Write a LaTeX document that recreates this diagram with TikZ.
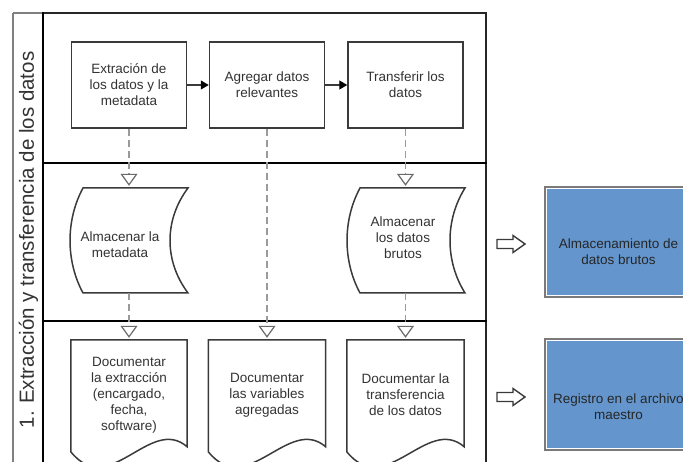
\documentclass[tikz,border=0pt]{standalone}
\usepackage{fontspec}
\setmainfont{Liberation Sans}
\usetikzlibrary{arrows.meta,calc}
\definecolor{boxline}{HTML}{3A3A3A}
\definecolor{txt}{HTML}{333333}
\definecolor{conn}{HTML}{9A9A9A}
\definecolor{tipline}{HTML}{6A6A6A}
\definecolor{repo}{RGB}{100,150,205}
\definecolor{repoedge}{HTML}{7A7A7A}
\definecolor{frameleft}{HTML}{808080}

\begin{document}
\begin{tikzpicture}[x=1pt,y=-1pt,
  every node/.style={text=txt, font=\fontsize{13.5}{16}\selectfont, align=center, inner sep=0pt},
  taskbox/.style={draw=boxline, line width=1.5pt, minimum width=115pt, minimum height=86pt},
  shapeline/.style={draw=boxline, line width=1.5pt, fill=white},
  storebox/.style={minimum width=105pt, minimum height=105pt},
  docbox/.style={minimum width=116pt, minimum height=110pt},
  flow/.style={draw=boxline, line width=1.3pt, -{Triangle[length=8pt,width=9pt,color=black]}},
  link/.style={draw=conn, line width=1.8pt, dash pattern=on 7pt off 4pt,
    -{Triangle[open, length=12pt, width=17pt, line width=1.2pt, color=tipline]}, shorten >=2pt},
  lane/.style={line width=2.8pt, black},
  repobox/.style={draw=repoedge, line width=2.2pt, fill=repo, minimum width=147pt, minimum height=110pt},
  repotext/.style={text=black!85},
  blockarrow/.style={draw=boxline, line width=1.4pt, fill=white, line join=miter},
]
\clip (0,0) rectangle (683,462);
\fill[white] (0,0) rectangle (683,462);

% swimlane frame
\draw[frameleft, line width=2pt] (13,13) -- (13,470);
\draw[frameleft, line width=2pt] (13,13) -- (43,13);
\draw[black!85, line width=2pt] (43,13) -- (486,13) -- (486,470);
\draw[lane] (43,12) -- (43,470);
\draw[lane] (43,163) -- (487,163);
\draw[lane] (43,321) -- (487,321);

\node[rotate=90, font=\fontsize{20.5}{24}\selectfont] (lanelabel) at (28.5,240)
  {1. Extracción y transferencia de los datos};

% process steps
\node[taskbox] (b1) at (129,85) {Extración de\\los datos y la\\metadata};
\node[taskbox] (b2) at (267,85) {Agregar datos\\relevantes};
\node[taskbox] (b3) at (405.5,85) {Transferir los\\datos};
\draw[flow] (b1) -- (b2);
\draw[flow] (b2) -- (b3);

% stored data shapes
\draw[shapeline] (83,188) -- (188,188) .. controls (164,220) and (164,261) .. (188,293)
  -- (83,293) .. controls (65.7,261) and (65.7,220) .. (83,188) -- cycle;
\node[storebox] (m) at (129,240.5) {};
\node (mtext) at (120,245) {Almacenar la\\metadata};

\draw[shapeline] (360,188) -- (465,188) .. controls (445,220) and (445,261) .. (465,293)
  -- (360,293) .. controls (342.7,261) and (342.7,220) .. (360,188) -- cycle;
\node[storebox] (s) at (405.5,240.5) {};
\node (stext) at (403,238) {Almacenar\\los datos\\brutos};

% documents
\node[docbox, minimum width=116pt] (d1) at (129,395) {Documentar\\la extracción\\(encargado,\\fecha,\\software)};
\node[docbox, minimum width=117pt] (d2) at (267,395) {Documentar\\las variables\\agregadas};
\node[docbox, minimum width=117pt] (d3) at (405.5,395) {Documentar la\\transferencia\\de los datos};
\foreach \d in {d1,d2,d3}{
  \draw[shapeline, fill=none] (\d.north east) -- (\d.north west) -- ($(\d.north west)+(0,112)$)
    .. controls +(39,48) and +(-37,-32) .. ($(\d.north east)+(0,107)$) -- cycle;
}

% dashed links
\draw[link] (b1.south) -- (m.north);
\draw[link] (m.south) -- (d1.north);
\draw[link] (b2.south) -- (d2.north);
\draw[link] (b3.south) -- (s.north);
\draw[link] (s.south) -- (d3.north);

% results
\node[repobox] (r1) at (618.5,242) {};
\draw[white, line width=0.9pt] ($(r1.north west)+(2.2,2.2)$) rectangle ($(r1.south east)+(-2.2,-2.2)$);
\node[repotext] (r1text) at (618.5,252) {Almacenamiento de\\datos brutos};
\node[repobox, minimum height=111pt] (r2) at (618.5,394.5) {};
\draw[white, line width=0.9pt] ($(r2.north west)+(2.2,2.2)$) rectangle ($(r2.south east)+(-2.2,-2.2)$);
\node[repotext] (r2text) at (618.5,407) {Registro en el archivo\\maestro};

% block arrows
\draw[blockarrow] (497,239.5) -- (513,239.5) -- (513,235.5) -- (525,244) -- (513,252.5)
  -- (513,248.5) -- (497,248.5) -- cycle;
\draw[blockarrow] (497,392.5) -- (513,392.5) -- (513,388.5) -- (525,397) -- (513,405.5)
  -- (513,401.5) -- (497,401.5) -- cycle;
\end{tikzpicture}
\end{document}
